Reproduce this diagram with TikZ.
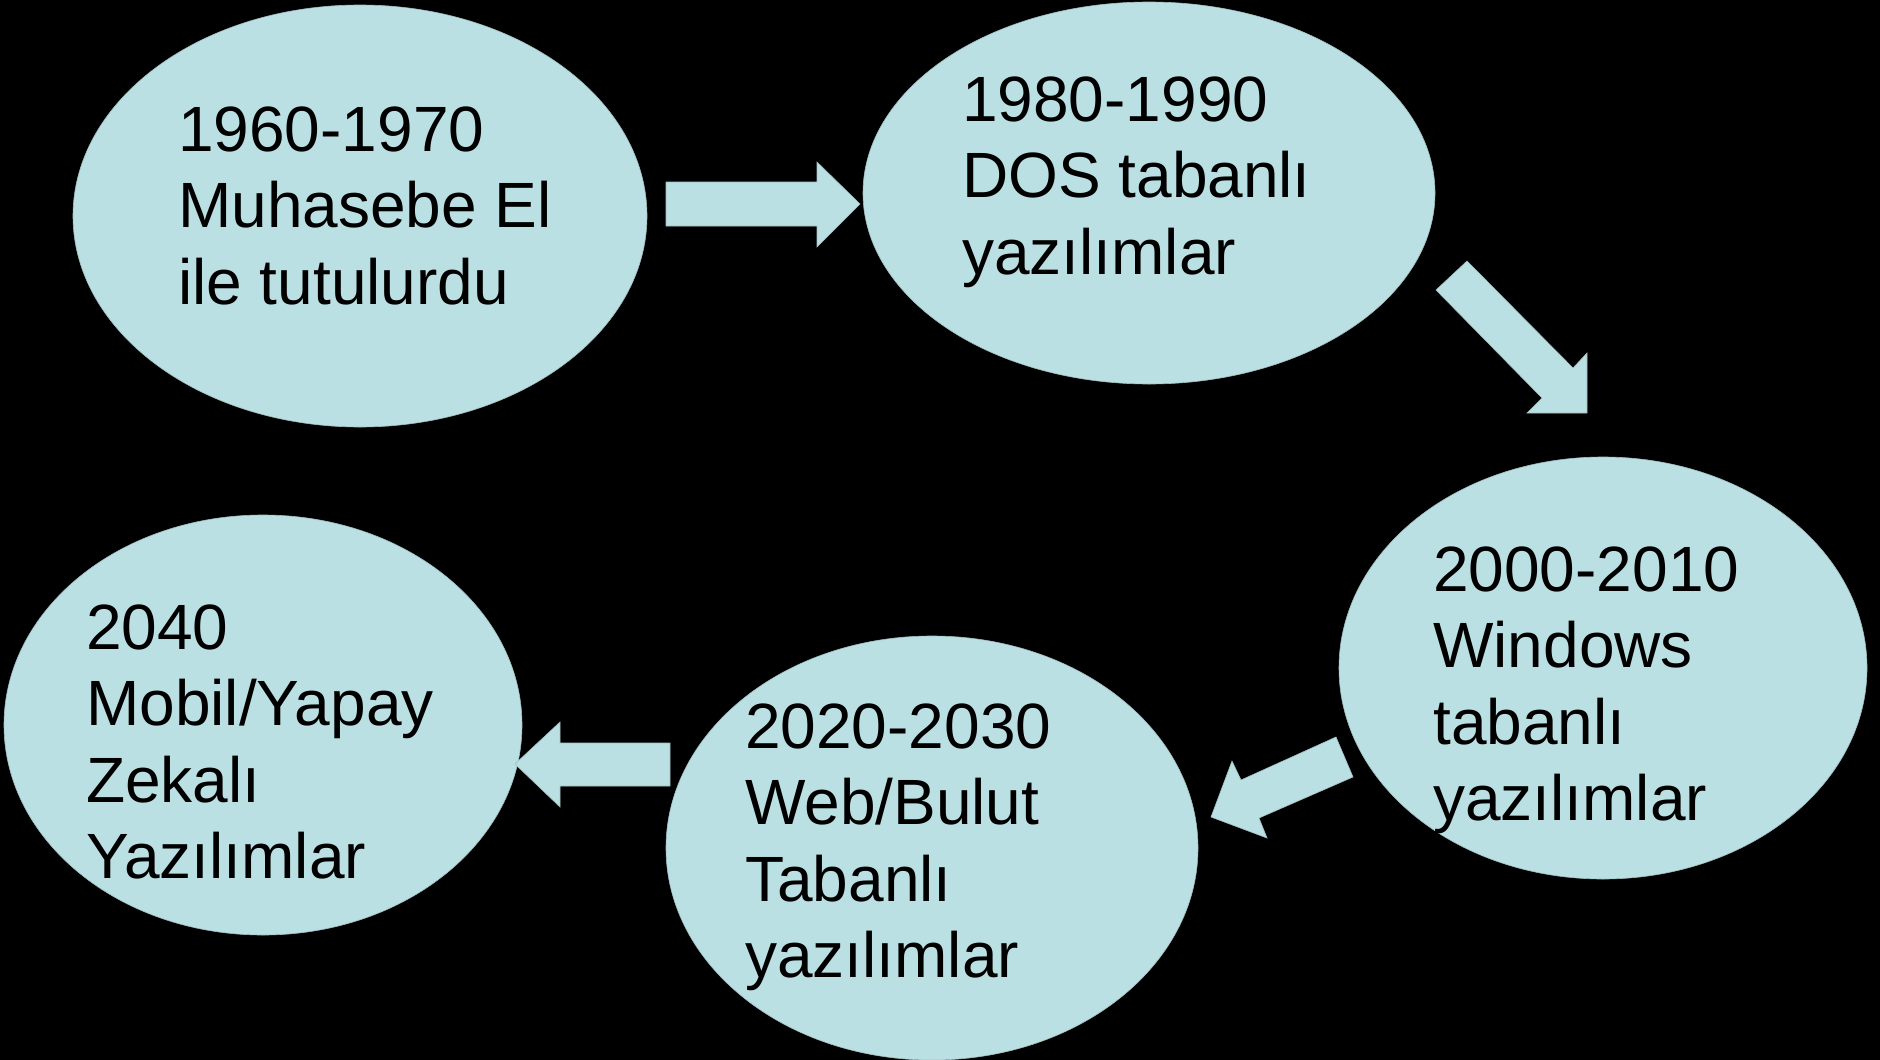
\documentclass[tikz,border=0pt]{standalone}
\usepackage{fontspec}
\setmainfont{Liberation Sans}
\usetikzlibrary{shapes.geometric}
\definecolor{bubble}{RGB}{187,224,227}
\tikzset{
  era/.style={ellipse, fill=bubble, draw=bubble!85!black, line width=0.6pt, inner sep=0pt},
  lbl/.style={anchor=base west, inner sep=0pt, text=black, font=\fontsize{64}{76.5}\selectfont},
  blockarrow/.style={fill=bubble, draw=bubble!85!black, line width=0.6pt}
}
\begin{document}
\begin{tikzpicture}[x=1pt,y=-1pt]
\fill[black] (0,0) rectangle (1880,1060);
\useasboundingbox (0,0) rectangle (1880,1060);
% ellipses
\node[era, minimum width=574pt, minimum height=422pt] (e1) at (360,216) {};
\node[era, minimum width=572pt, minimum height=382pt] (e2) at (1149,193) {};
\node[era, minimum width=528pt, minimum height=422pt] (e3) at (1603,668) {};
\node[era, minimum width=532pt, minimum height=424pt] (e4) at (932,848) {};
\node[era, minimum width=518pt, minimum height=420pt] (e5) at (263,725) {};
% block arrows
\filldraw[blockarrow] (666,182) -- (817,182) -- (817,162) -- (860,204) -- (817,247) -- (817,226) -- (666,226) -- cycle;
\filldraw[blockarrow] (1436,290) -- (1467,261) -- (1573,368) -- (1587,353) -- (1587,413) -- (1527,413) -- (1542,398) -- cycle;
\filldraw[blockarrow] (1336,737) -- (1353,777) -- (1259,818) -- (1267,838) -- (1211,817) -- (1232,761) -- (1241,780) -- cycle;
\filldraw[blockarrow] (670,743) -- (670,786) -- (560,786) -- (560,807) -- (515,764) -- (560,722) -- (560,743) -- cycle;
% labels
\node[lbl] (t1) at (178,151) {\vtop{\hbox{1960-1970}\hbox{Muhasebe El}\hbox{ile tutulurdu}}};
\node[lbl] (t2) at (962,121) {\vtop{\hbox{1980-1990}\hbox{DOS tabanlı}\hbox{yazılımlar}}};
\node[lbl] (t3) at (1433,591) {\vtop{\hbox{2000-2010}\hbox{Windows}\hbox{tabanlı}\hbox{yazılımlar}}};
\node[lbl] (t4) at (745,748) {\vtop{\hbox{2020-2030}\hbox{Web/Bulut}\hbox{Tabanlı}\hbox{yazılımlar}}};
\node[lbl] (t5) at (86,649) {\vtop{\hbox{2040}\hbox{Mobil/Yapay}\hbox{Zekalı}\hbox{Yazılımlar}}};
\end{tikzpicture}
\end{document}
